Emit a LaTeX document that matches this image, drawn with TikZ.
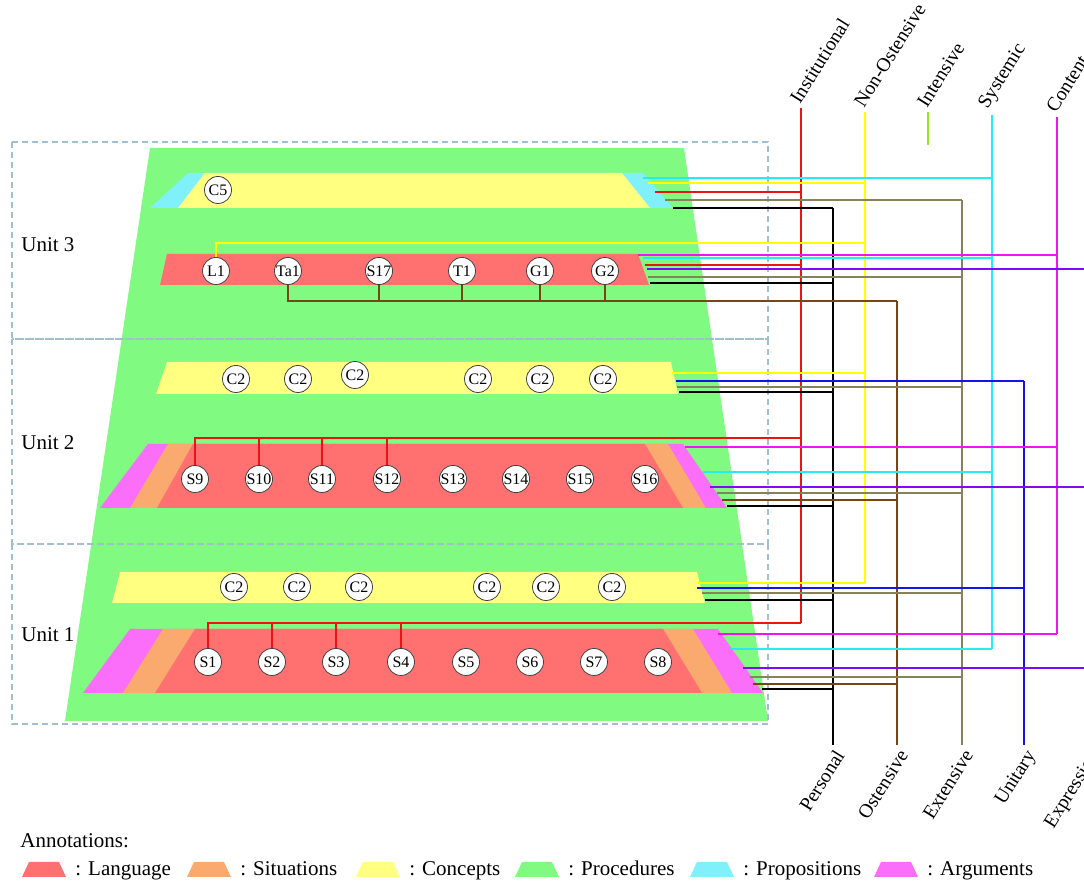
\documentclass[tikz,border=0pt]{standalone}
\usepackage{fontspec}
\setmainfont{Liberation Serif}
\usetikzlibrary{positioning}

\definecolor{procgreen}{RGB}{128,250,128}
\definecolor{langred}{RGB}{255,112,112}
\definecolor{concyellow}{RGB}{255,255,128}
\definecolor{sitorange}{RGB}{250,170,110}
\definecolor{propcyan}{RGB}{128,240,250}
\definecolor{argmagenta}{RGB}{250,110,250}
\definecolor{boxblue}{RGB}{160,192,208}
\definecolor{lnred}{RGB}{235,20,20}
\definecolor{lnyellow}{RGB}{255,255,0}
\definecolor{lngreen}{RGB}{150,230,40}
\definecolor{lncyan}{RGB}{40,235,240}
\definecolor{lnmagenta}{RGB}{240,20,240}
\definecolor{lnpurple}{RGB}{128,10,245}
\definecolor{lnblue}{RGB}{20,20,230}
\definecolor{lnolive}{RGB}{135,130,90}
\definecolor{lnbrown}{RGB}{120,70,20}

\tikzset{
  obj/.style={circle, draw=black!75, fill=white, line width=0.4pt,
    minimum size=13.5pt, inner sep=0pt, font=\fontsize{8}{8}\selectfont},
  conn/.style={line width=1.2pt},
  unitbox/.style={draw=boxblue, line width=1pt, dash pattern=on 3pt off 2pt},
  toplab/.style={rotate=58, anchor=south west, inner sep=1pt, font=\fontsize{9.8}{11}\selectfont},
  botlab/.style={rotate=58, anchor=north east, inner sep=1pt, font=\fontsize{9.8}{11}\selectfont}
}

\begin{document}
\begin{tikzpicture}[x=0.5pt, y=-0.5pt, every node/.style={font=\fontsize{10.5}{12}\selectfont}]
\useasboundingbox (0,0) rectangle (1084,881);

% procedures (background)
\fill[procgreen] (150,148) -- (684,148) -- (768,721) -- (65,721) -- cycle;

% unit 3 bands
\fill[propcyan] (188,173) -- (643,173) -- (673,208) -- (150,208) -- cycle;
\fill[concyellow] (205,173) -- (622,173) -- (650,208) -- (178,208) -- cycle;
\fill[langred] (167,254) -- (638,254) -- (649,285) -- (160,285) -- cycle;

% unit 2 bands
\fill[concyellow] (167,362) -- (671,362) -- (678,394) -- (156,394) -- cycle;
\fill[argmagenta] (148,444) -- (683,444) -- (727,508) -- (100,508) -- cycle;
\fill[sitorange] (168,444) -- (668,444) -- (706,508) -- (130,508) -- cycle;
\fill[langred] (193,444) -- (645,444) -- (683,508) -- (157,508) -- cycle;

% unit 1 bands
\fill[concyellow] (120,572) -- (697,572) -- (705,603) -- (112,603) -- cycle;
\fill[argmagenta] (130,629) -- (718,629) -- (763,693) -- (83,693) -- cycle;
\fill[sitorange] (163,629) -- (693,629) -- (732,693) -- (123,693) -- cycle;
\fill[langred] (195,629) -- (663,629) -- (702,693) -- (155,693) -- cycle;

% units
\draw[unitbox] (12,142) rectangle (768,339);
\draw[unitbox] (12,339) rectangle (768,544);
\draw[unitbox] (12,544) rectangle (768,724);
\node[anchor=base west, inner sep=0] (u3) at (21,252) {Unit 3};
\node[anchor=base west, inner sep=0] (u2) at (21,450) {Unit 2};
\node[anchor=base west, inner sep=0] (u1) at (21,642) {Unit 1};

% dimensions: top ends
\coordinate (inst) at (801,108);
\coordinate (nonost) at (865,112);
\coordinate (intens) at (928,112);
\coordinate (syst) at (992,115);
\coordinate (cont) at (1057,117);
% dimensions: bottom ends
\coordinate (pers) at (833,745);
\coordinate (ost) at (897,745);
\coordinate (ext) at (962,745);
\coordinate (unit) at (1024,745);
\coordinate (expr) at (1088,745);

\node[toplab] (instL) at (inst) {Institutional};
\node[toplab] (nonostL) at (nonost) {Non-Ostensive};
\node[toplab] (intensL) at (intens) {Intensive};
\node[toplab] (systL) at (syst) {Systemic};
\node[toplab] (contL) at (cont) {Content};
\node[botlab] (persL) at (pers) {Personal};
\node[botlab] (ostL) at (ost) {Ostensive};
\node[botlab] (extL) at (ext) {Extensive};
\node[botlab] (unitL) at (unit) {Unitary};
\node[botlab] (exprL) at (expr) {Expression};

\draw[conn,lnred] (inst) -- (inst |- 0,623);
\draw[conn,lnyellow] (nonost) -- (nonost |- 0,583);
\draw[conn,lngreen] (intens) -- (intens |- 0,145);
\draw[conn,lncyan] (syst) -- (syst |- 0,649);
\draw[conn,lnmagenta] (cont) -- (cont |- 0,634);
\draw[conn,black] (pers) -- (pers |- 0,208);
\draw[conn,lnbrown] (ost) -- (ost |- 0,301);
\draw[conn,lnolive] (ext) -- (ext |- 0,200);
\draw[conn,lnblue] (unit) -- (unit |- 0,381);
\draw[conn,lnpurple] (expr) -- (expr |- 0,269);

% band to dimension connectors
\foreach \y/\x/\c/\t in {
  178/643/lncyan/syst, 183/648/lnyellow/nonost, 192/655/lnred/inst,
  200/665/lnolive/ext, 208/673/black/pers,
  255/638/lnmagenta/cont, 258/643/lncyan/syst, 265/645/lnred/inst,
  269/647/lnpurple/expr, 277/648/lnolive/ext, 283/650/black/pers,
  373/672/lnyellow/nonost, 381/676/lnblue/unit, 387/677/lnolive/ext,
  392/679/black/pers,
  447/685/lnmagenta/cont, 472/703/lncyan/syst, 487/710/lnpurple/expr,
  493/717/lnolive/ext, 500/722/lnbrown/ost, 506/727/black/pers,
  583/698/lnyellow/nonost, 588/697/lnblue/unit, 593/702/lnolive/ext,
  600/705/black/pers,
  634/718/lnmagenta/cont, 649/730/lncyan/syst, 668/743/lnpurple/expr,
  677/750/lnolive/ext, 684/753/lnbrown/ost, 689/762/black/pers}
  \draw[conn,\c] (\x,\y) -- (\x,\y -| \t);

% unit 3 objects
\node[obj] (C5) at (218,190) {C5};
\foreach \n/\x in {L1/216,Ta1/288,S17/379,T1/462,G1/540,G2/605}
  \node[obj] (\n) at (\x,271) {\n};

% unit 2 objects
\foreach \x/\y [count=\i] in {236/379,298/379,355/375,478/379,540/379,603/379}
  \node[obj] (cb\i) at (\x,\y) {C2};
\foreach \n/\x in {9/195,10/259,11/322,12/387,13/453,14/516,15/580,16/645}
  \node[obj] (S\n) at (\x,479) {S\n};

% unit 1 objects
\foreach \x [count=\i] in {234,297,359,487,546,612}
  \node[obj] (ca\i) at (\x,587) {C2};
\foreach \n/\x in {1/208,2/272,3/336,4/401,5/466,6/530,7/594,8/658}
  \node[obj] (S\n) at (\x,662) {S\n};

% object links
\draw[conn,lnyellow] (L1.north) |- (0,243 -| nonost);
\draw[conn,lnbrown] (Ta1.south) |- (0,301 -| ost);
\foreach \n in {S17,T1,G1,G2}
  \draw[conn,lnbrown] (\n.south) -- (\n.south |- 0,301);
\draw[conn,lnred] (S9.north) |- (0,438 -| inst);
\foreach \n in {S10,S11,S12}
  \draw[conn,lnred] (\n.north) -- (\n.north |- 0,438);
\draw[conn,lnred] (S1.north) |- (0,623 -| inst);
\foreach \n in {S2,S3,S4}
  \draw[conn,lnred] (\n.north) -- (\n.north |- 0,623);

% annotations
\node[anchor=base west, inner sep=0] (annot) at (20,848) {Annotations:};
\foreach \x/\c/\t [count=\i] in {22/langred/Language, 187/sitorange/Situations,
    356/concyellow/Concepts, 515/procgreen/Procedures,
    690/propcyan/Propositions, 874/argmagenta/Arguments} {
  \fill[\c] (\x,877) -- (\x+44,877) -- (\x+37,862) -- (\x+7,862) -- cycle;
  \node[anchor=base west, inner sep=0] (leg\i) at (\x+53,876) {: \t};
}
\end{tikzpicture}
\end{document}
